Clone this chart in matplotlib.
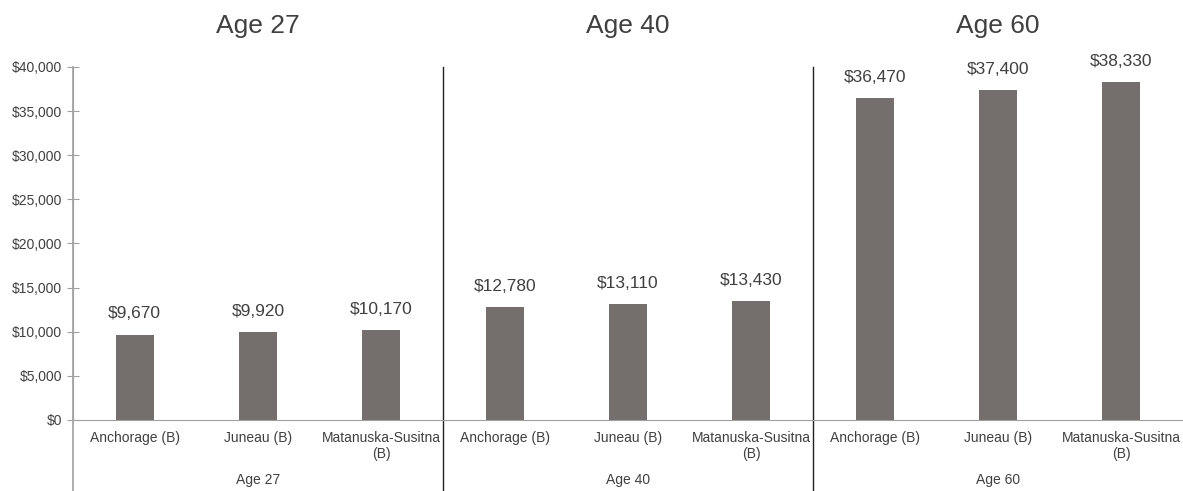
import matplotlib
matplotlib.use("Agg")
import matplotlib.pyplot as plt
from matplotlib.ticker import FuncFormatter
import matplotlib.transforms as mtransforms

plt.rcParams['font.family'] = ['Liberation Sans', 'DejaVu Sans']

groups = ["Age 27", "Age 40", "Age 60"]
categories = ["Anchorage (B)", "Juneau (B)", "Matanuska-Susitna\n(B)"]
values = {
    "Age 27": [9670, 9920, 10170],
    "Age 40": [12780, 13110, 13430],
    "Age 60": [36470, 37400, 38330],
}
yticks = [0, 5000, 10000, 15000, 20000, 25000, 30000, 35000, 40000]

bar_color = "#746f6d"
text_color = "#404040"
axis_color = "#a0a0a0"

fig = plt.figure(figsize=(11.83, 4.91), dpi=100)
ax = fig.add_axes([73/1183, 1 - 420/491, 1 - 73/1183, (420 - 67)/491])

n = len(categories)
xs, hs, labels = [], [], []
for gi, g in enumerate(groups):
    for ci, c in enumerate(categories):
        x = gi * n + ci
        xs.append(x)
        hs.append(values[g][ci])
        labels.append(c)

bars = ax.bar(xs, hs, width=0.31, color=bar_color, zorder=2)
for x, h in zip(xs, hs):
    ax.text(x, h + 1500, f"${h:,.0f}", ha="center", va="bottom",
            fontsize=12.5, color=text_color)

ax.set_xlim(-0.5, len(xs) - 0.5)
ax.set_ylim(0, 40000)
ax.set_yticks(yticks)
ax.yaxis.set_major_formatter(FuncFormatter(lambda v, p: f"${v:,.0f}"))
ax.tick_params(axis="y", direction="inout", length=8, color=axis_color,
               labelsize=10, labelcolor=text_color, pad=4)
ax.set_xticks(xs)
ax.set_xticklabels(labels, fontsize=10, color=text_color, linespacing=1.15)
ax.tick_params(axis="x", length=0, pad=8)

for s in ["top", "right"]:
    ax.spines[s].set_visible(False)
ax.spines["left"].set_color(axis_color)
ax.spines["bottom"].set_color(axis_color)
ax.spines["left"].set_bounds(0, 40000)

bottom_frac = -(491 - 420) / (420 - 67)
# left axis extension down to bottom
ax.axvline(-0.5, ymin=bottom_frac, ymax=1.0, color=axis_color, lw=1.2, clip_on=False)
# group separators
for gi in range(1, len(groups)):
    ax.axvline(gi * n - 0.5, ymin=bottom_frac, ymax=1.0, color="#202020", lw=1.0, clip_on=False)

trans = mtransforms.blended_transform_factory(ax.transData, ax.transAxes)
for gi, g in enumerate(groups):
    cx = gi * n + (n - 1) / 2
    ax.text(cx, -(480 - 420) / 353, g,
            transform=trans, ha="center", va="center", fontsize=10, color=text_color)
    fig.text(ax.transData.transform((cx, 0))[0] / fig.bbox.width, 1 - 26 / 491, g,
             ha="center", va="center", fontsize=19, color=text_color)

fig.savefig("out.png", dpi=100)
